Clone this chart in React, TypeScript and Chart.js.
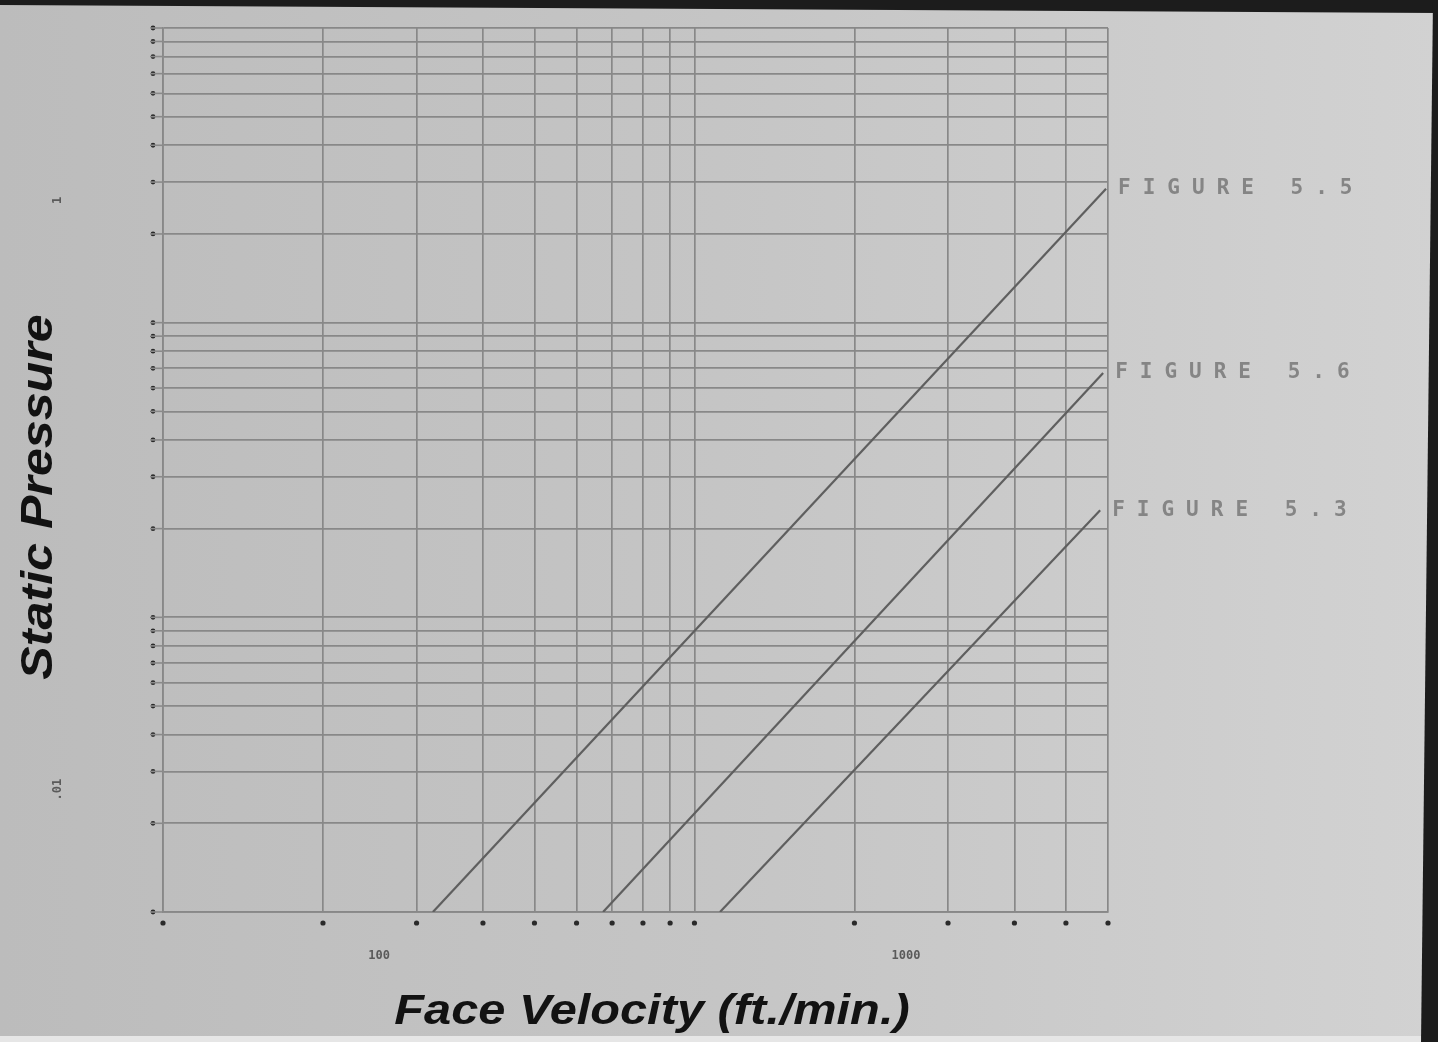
import React, { useEffect, useRef } from "react";
import { Chart, registerables } from "chart.js";

Chart.register(...registerables);

// ---- data ----
const xGridValues = [100, 200, 300, 400, 500, 600, 700, 800, 900, 1000, 2000, 3000, 4000, 5000, 6000];
const yGridValues = [
  0.01, 0.02, 0.03, 0.04, 0.05, 0.06, 0.07, 0.08, 0.09,
  0.1, 0.2, 0.3, 0.4, 0.5, 0.6, 0.7, 0.8, 0.9,
  1, 2, 3, 4, 5, 6, 7, 8, 9, 10,
];
const xTickLabelValues = [255, 2500];
const xTickLabels = ["100", "1000"];
const yTickLabelValues = [2.6, 0.026];
const yTickLabels = ["1", ".01"];

const seriesNames = ["FIGURE 5.5", "FIGURE 5.6", "FIGURE 5.3"];
const fig55Velocity = [322, 5950];
const fig55Pressure = [0.01, 2.85];
const fig56Velocity = [673, 5875];
const fig56Pressure = [0.01, 0.675];
const fig53Velocity = [1117, 5800];
const fig53Pressure = [0.01, 0.231];

const xTitle = "Face Velocity (ft./min.)";
const yTitle = "Static Pressure";

const toPoints = (xs: number[], ys: number[]) => xs.map((x, i) => ({ x, y: ys[i] }));

const W = 1438;
const H = 1042;

const decorPlugin = {
  id: "decor",
  beforeDraw(chart: any) {
    const ctx = chart.ctx as CanvasRenderingContext2D;
    ctx.save();
    const g = ctx.createLinearGradient(0, 0, W, 0);
    g.addColorStop(0, "#bcbcbc");
    g.addColorStop(0.5, "#c5c5c5");
    g.addColorStop(1, "#d2d2d2");
    ctx.fillStyle = g;
    ctx.fillRect(0, 0, W, H);
    ctx.restore();
  },
  afterDraw(chart: any) {
    const ctx = chart.ctx as CanvasRenderingContext2D;
    const xs = chart.scales.x;
    const ys = chart.scales.y;
    const ca = chart.chartArea;
    ctx.save();

    // tick dots
    ctx.fillStyle = "#2a2a2a";
    xGridValues.forEach((v) => {
      const px = xs.getPixelForValue(v);
      ctx.beginPath();
      ctx.arc(px, ca.bottom + 11, 2.6, 0, Math.PI * 2);
      ctx.fill();
    });
    yGridValues.forEach((v) => {
      const py = ys.getPixelForValue(v);
      ctx.beginPath();
      ctx.arc(ca.left - 10, py, 2.4, 0, Math.PI * 2);
      ctx.fill();
    });

    // short grid stubs to the left
    ctx.strokeStyle = "#8a8a8a";
    ctx.lineWidth = 1.6;
    yGridValues.forEach((v) => {
      const py = ys.getPixelForValue(v);
      ctx.beginPath();
      ctx.moveTo(ca.left - 12, py);
      ctx.lineTo(ca.left, py);
      ctx.stroke();
    });

    // tick labels
    ctx.fillStyle = "#5a5a5a";
    ctx.font = "bold 12px 'DejaVu Sans Mono'";
    ctx.textAlign = "center";
    ctx.textBaseline = "middle";
    xTickLabelValues.forEach((v, i) => {
      ctx.fillText(xTickLabels[i], xs.getPixelForValue(v), ca.bottom + 44);
    });
    yTickLabelValues.forEach((v, i) => {
      ctx.save();
      ctx.translate(ca.left - 105, ys.getPixelForValue(v));
      ctx.rotate(-Math.PI / 2);
      ctx.fillText(yTickLabels[i], 0, 0);
      ctx.restore();
    });

    // series labels at line ends
    ctx.fillStyle = "#858585";
    ctx.font = "bold 21px 'DejaVu Sans Mono'";
    (ctx as any).letterSpacing = "12px";
    ctx.textAlign = "left";
    ctx.textBaseline = "middle";
    chart.data.datasets.forEach((ds: any, i: number) => {
      const last = ds.data[ds.data.length - 1];
      const px = xs.getPixelForValue(last.x);
      const py = ys.getPixelForValue(last.y);
      ctx.fillText(seriesNames[i], px + 12, py);
    });
    (ctx as any).letterSpacing = "0px";

    // axis titles
    ctx.fillStyle = "#121212";
    ctx.textAlign = "center";
    ctx.textBaseline = "middle";
    ctx.save();
    ctx.translate(652, 1012);
    ctx.scale(1.16, 1);
    ctx.font = "italic bold 42px 'Liberation Sans'";
    ctx.fillText(xTitle, 0, 0);
    ctx.restore();
    ctx.save();
    ctx.translate(40, 497);
    ctx.rotate(-Math.PI / 2);
    ctx.scale(1.14, 1);
    ctx.font = "italic bold 44px 'Liberation Sans'";
    ctx.fillText(yTitle, 0, 0);
    ctx.restore();

    // photo borders
    ctx.fillStyle = "#1c1c1c";
    ctx.beginPath();
    ctx.moveTo(0, 0);
    ctx.lineTo(W, 0);
    ctx.lineTo(W, 13);
    ctx.lineTo(0, 5);
    ctx.closePath();
    ctx.fill();
    ctx.beginPath();
    ctx.moveTo(1433, 0);
    ctx.lineTo(W, 0);
    ctx.lineTo(W, H);
    ctx.lineTo(1421, H);
    ctx.closePath();
    ctx.fill();
    ctx.fillStyle = "#e6e6e6";
    ctx.fillRect(0, 1036, 1421, 6);

    ctx.restore();
  },
};

export default function App() {
  const ref = useRef<HTMLCanvasElement | null>(null);
  useEffect(() => {
    if (!ref.current) return;
    const mkDs = (xs: number[], ys: number[]) => ({
      data: toPoints(xs, ys),
      borderColor: "#5f5f5f",
      borderWidth: 2.2,
      pointRadius: 0,
      fill: false,
      tension: 0,
    });
    const chart = new Chart(ref.current, {
      type: "line",
      data: {
        datasets: [
          { label: seriesNames[0], ...mkDs(fig55Velocity, fig55Pressure) },
          { label: seriesNames[1], ...mkDs(fig56Velocity, fig56Pressure) },
          { label: seriesNames[2], ...mkDs(fig53Velocity, fig53Pressure) },
        ],
      },
      options: {
        responsive: false,
        animation: false,
        layout: { padding: { left: 163, right: W - 1108, top: 28, bottom: H - 912 } },
        plugins: { legend: { display: false }, tooltip: { enabled: false } },
        scales: {
          x: {
            type: "logarithmic",
            min: 100,
            max: 6000,
            afterBuildTicks: (axis: any) => {
              axis.ticks = xGridValues.map((v) => ({ value: v }));
            },
            afterFit: (axis: any) => {
              axis.height = 0;
            },
            ticks: { display: false },
            grid: { color: "#888888", lineWidth: 1.7, drawTicks: false },
            border: { display: true, color: "#888888", width: 1.7 },
          },
          y: {
            type: "logarithmic",
            min: 0.01,
            max: 10,
            afterBuildTicks: (axis: any) => {
              axis.ticks = yGridValues.map((v) => ({ value: v }));
            },
            afterFit: (axis: any) => {
              axis.width = 0;
            },
            ticks: { display: false },
            grid: { color: "#888888", lineWidth: 1.7, drawTicks: false },
            border: { display: true, color: "#888888", width: 1.7 },
          },
        },
      },
      plugins: [decorPlugin],
    } as any);
    return () => chart.destroy();
  }, []);
  return (
    <div style={{ position: "fixed", left: 0, top: 0, width: W, height: H }}>
      <canvas ref={ref} width={W} height={H} style={{ display: "block" }} />
    </div>
  );
}
